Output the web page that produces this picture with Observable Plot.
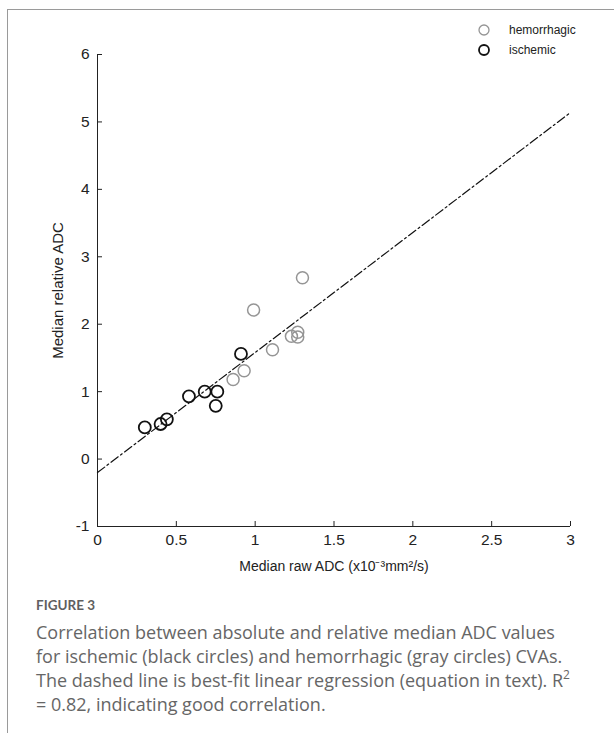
<!DOCTYPE html>
<html>
<head>
<meta charset="utf-8">
<script src="https://cdn.jsdelivr.net/npm/d3@7"></script>
<script src="https://cdn.jsdelivr.net/npm/@observablehq/plot@0.6"></script>
<style>
  html, body { margin: 0; padding: 0; background: #fff; }
  #page { position: relative; width: 614px; height: 733px; overflow: hidden; background: #fff; }
  #frameTop { position: absolute; left: 7px; top: 9px; right: 0; height: 0; border-top: 1.5px solid #9a9a9a; }
  #frameLeft { position: absolute; left: 7px; top: 9px; bottom: 0; width: 0; border-left: 1.5px solid #9a9a9a; }
  #chart { position: absolute; left: 0; top: 0; }
  #legend { position: absolute; left: 476px; top: 20px; font-family: "Liberation Sans", Arial, sans-serif; font-size: 12px; color: #222; }
  #legend .row { display: flex; align-items: center; height: 20px; }
  #legend svg { margin-right: 17px; }
  #caption { position: absolute; left: 36px; top: 597px; width: 578px; color: #666; }
  #caption .fig { font-family: Lato, "Open Sans", sans-serif; font-weight: 700; font-size: 13.5px; color: #5f5f5f; margin-bottom: 7px; }
  #caption .txt { font-family: "Open Sans", "Noto Sans", sans-serif; font-size: 18px; line-height: 24px; white-space: nowrap; }
  #caption sup { font-size: 12px; line-height: 0; vertical-align: 8px; }
</style>
</head>
<body>
<div id="page">
  <div id="frameTop"></div>
  <div id="frameLeft"></div>
  <div id="chart"></div>
  <div id="legend"></div>
  <div id="caption">
    <div class="fig">FIGURE 3</div>
    <div class="txt">Correlation between absolute and relative median ADC values<br>for ischemic (black circles) and hemorrhagic (gray circles) CVAs.<br>The dashed line is best-fit linear regression (equation in text). R<sup>2</sup><br>= 0.82, indicating good correlation.</div>
  </div>
</div>
<script>
// ---- data ----
const ischemicX = [0.30, 0.40, 0.44, 0.58, 0.68, 0.76, 0.75, 0.91];
const ischemicY = [0.47, 0.52, 0.59, 0.93, 1.00, 1.00, 0.79, 1.56];
const hemorrhagicX = [0.86, 0.93, 0.99, 1.11, 1.23, 1.27, 1.27, 1.30];
const hemorrhagicY = [1.18, 1.31, 2.21, 1.62, 1.82, 1.88, 1.81, 2.69];
const fitX = [0, 3];
const fitY = [-0.20, 5.14];
const xTicks = [0, 0.5, 1, 1.5, 2, 2.5, 3];
const yTicks = [-1, 0, 1, 2, 3, 4, 5, 6];
const seriesNames = ["hemorrhagic", "ischemic"];
const seriesColors = ["#959595", "#111111"];
const xTitle = "Median raw ADC (x10⁻³mm²/s)";
const yTitle = "Median relative ADC";

const ischemic = ischemicX.map((x, i) => ({x, y: ischemicY[i]}));
const hemorrhagic = hemorrhagicX.map((x, i) => ({x, y: hemorrhagicY[i]}));
const fit = fitX.map((x, i) => ({x, y: fitY[i]}));

const chart = Plot.plot({
  width: 614,
  height: 576,
  marginLeft: 97,
  marginRight: 44,
  marginTop: 54,
  marginBottom: 50,
  style: {fontFamily: "'Liberation Sans', Arial, sans-serif", fontSize: "14px", color: "#222", background: "transparent"},
  x: {domain: [0, 3]},
  y: {domain: [-1, 6]},
  marks: [
    Plot.ruleX([0], {stroke: "#222", strokeWidth: 1}),
    Plot.ruleY([-1], {stroke: "#222", strokeWidth: 1}),
    // inward ticks
    Plot.axisY(yTicks, {tickSize: 5, dx: 5, fill: "none", label: null, stroke: "#222"}),
    Plot.axisX(xTicks, {tickSize: 5, dy: -5, fill: "none", label: null, stroke: "#222"}),
    // tick labels + axis titles
    Plot.axisY(yTicks, {tickSize: 0, tickPadding: 8, tickFormat: d => String(d),
      label: yTitle, labelAnchor: "center", labelOffset: 45, labelArrow: "none"}),
    Plot.axisX(xTicks, {tickSize: 0, tickPadding: 7, tickFormat: d => String(d),
      label: xTitle, labelAnchor: "center", labelOffset: 44, labelArrow: "none"}),
    Plot.line(fit, {x: "x", y: "y", stroke: "#111", strokeWidth: 1.2, strokeDasharray: "9,3,2,3"}),
    Plot.dot(hemorrhagic, {x: "x", y: "y", r: 6, stroke: seriesColors[0], strokeWidth: 1.5, fill: "none"}),
    Plot.dot(ischemic, {x: "x", y: "y", r: 6, stroke: seriesColors[1], strokeWidth: 1.8, fill: "none"})
  ]
});
document.getElementById("chart").appendChild(chart);

// font sizes: tick labels larger than the axis titles
const tickStrings = new Set([...xTicks, ...yTicks].map(String));
d3.select(chart).selectAll("text").each(function() {
  const t = this.textContent;
  if (tickStrings.has(t)) this.style.fontSize = "15.5px";
  else if (t === xTitle) this.style.fontSize = "14px";
  else if (t === yTitle) this.style.fontSize = "15px";
});

// legend
const legend = document.getElementById("legend");
seriesNames.forEach((name, i) => {
  const row = document.createElement("div");
  row.className = "row";
  row.innerHTML = `<svg width="16" height="16"><circle cx="8" cy="8" r="5" fill="none" stroke="${seriesColors[i]}" stroke-width="${i === 0 ? 1.3 : 1.8}"/></svg><span>${name}</span>`;
  legend.appendChild(row);
});
</script>
</body>
</html>
